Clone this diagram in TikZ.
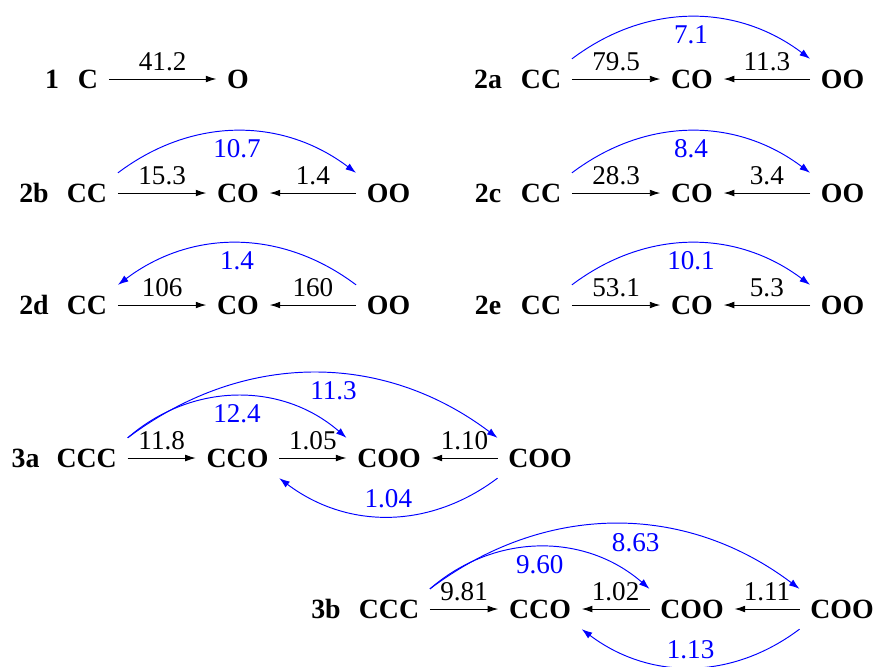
\documentclass[tikz,border=0pt]{standalone}
\usepackage{fontspec}
\setmainfont{Liberation Serif}
\usetikzlibrary{arrows.meta}

\tikzset{
  mol/.style={font=\fontsize{11.6pt}{14pt}\selectfont\bfseries, inner sep=4.3pt},
  tag/.style={font=\fontsize{11.6pt}{14pt}\selectfont\bfseries},
  rxn/.style={-{Latex[length=4.4pt,width=2.8pt]}, black},
  hop/.style={-{Latex[length=4.4pt,width=3pt]}, blue},
}

\begin{document}
\begin{tikzpicture}[x=0.4167pt, y=-0.4167pt, font=\fontsize{11.3pt}{14pt}\selectfont]
		\useasboundingbox (0,0) rectangle (875,666);
		% scheme 1
		\node[tag] (t1) at (52,79) {1};
		\node[mol] (c1) at (88,79) {C};
		\node[mol] (o1) at (238,79) {O};
		\draw[rxn] (c1) -- node[above] {41.2} (o1);
		
		% two-atom schemes with forward jump
		\foreach \n/\x/\y/\f/\b/\j in {2a/541/79/79.5/11.3/7.1, 2b/87/193/15.3/1.4/10.7, 2c/541/193/28.3/3.4/8.4, 2e/541/305/53.1/5.3/10.1}{
			\node[tag] (t\n) at (\x-53,\y) {\n};
			\node[mol] (cc\n) at (\x,\y) {CC};
			\node[mol] (co\n) at (\x+151,\y) {CO};
			\node[mol] (oo\n) at (\x+301.5,\y) {OO};
			\draw[rxn] (cc\n) -- node[above] {\f} (co\n);
			\draw[rxn] (oo\n) -- node[above] {\b} (co\n);
			\draw[hop] (cc\n.north east) to[bend left=37] node[below] {\j} (oo\n.north west);
		}
		
		% 2d goes backwards
		\node[tag] (t2d) at (34,305) {2d};
		\node[mol] (cc2d) at (87,305) {CC};
		\node[mol] (co2d) at (238,305) {CO};
		\node[mol] (oo2d) at (388.5,305) {OO};
		\draw[rxn] (cc2d) -- node[above] {106} (co2d);
		\draw[rxn] (oo2d) -- node[above] {160} (co2d);
		\draw[hop] (oo2d.north west) to[bend right=37] node[below] {1.4} (cc2d.north east);
		
		% scheme 3a
		\node[tag] (t3a) at (25.5,458) {3a};
		\node[mol] (ccc3a) at (86.7,458) {CCC};
		\node[mol] (cco3a) at (237.5,458) {CCO};
		\node[mol] (cooa3a) at (389,458) {COO};
		\node[mol] (coob3a) at (540,458) {COO};
		\draw[rxn] (ccc3a) -- node[above] {11.8} (cco3a);
		\draw[rxn] (cco3a) -- node[above] {1.05} (cooa3a);
		\draw[rxn] (coob3a) -- node[above] {1.10} (cooa3a);
		\draw[hop] (ccc3a.north east) to[bend left=41] node[below] {12.4} (cooa3a.north west);
		\draw[hop] (ccc3a.north east) to[bend left=37] node[pos=0.555, below] {11.3} (coob3a.north west);
		\draw[hop] (coob3a.south west) to[bend left=37] node[above] {1.04} (cco3a.south east);
		
		% scheme 3b
		\node[tag] (t3b) at (326,609) {3b};
		\node[mol] (ccc3b) at (389,609) {CCC};
		\node[mol] (cco3b) at (540,609) {CCO};
		\node[mol] (cooa3b) at (692,609) {COO};
		\node[mol] (coob3b) at (842,609) {COO};
		\draw[rxn] (ccc3b) -- node[above] {9.81} (cco3b);
		\draw[rxn] (cooa3b) -- node[above] {1.02} (cco3b);
		\draw[rxn] (coob3b) -- node[above] {1.11} (cooa3b);
		\draw[hop] (ccc3b.north east) to[bend left=41] node[below] {9.60} (cooa3b.north west);
		\draw[hop] (ccc3b.north east) to[bend left=37] node[pos=0.555, below] {8.63} (coob3b.north west);
		\draw[hop] (coob3b.south west) to[bend left=37] node[above] {1.13} (cco3b.south east);
\end{tikzpicture}
\end{document}
